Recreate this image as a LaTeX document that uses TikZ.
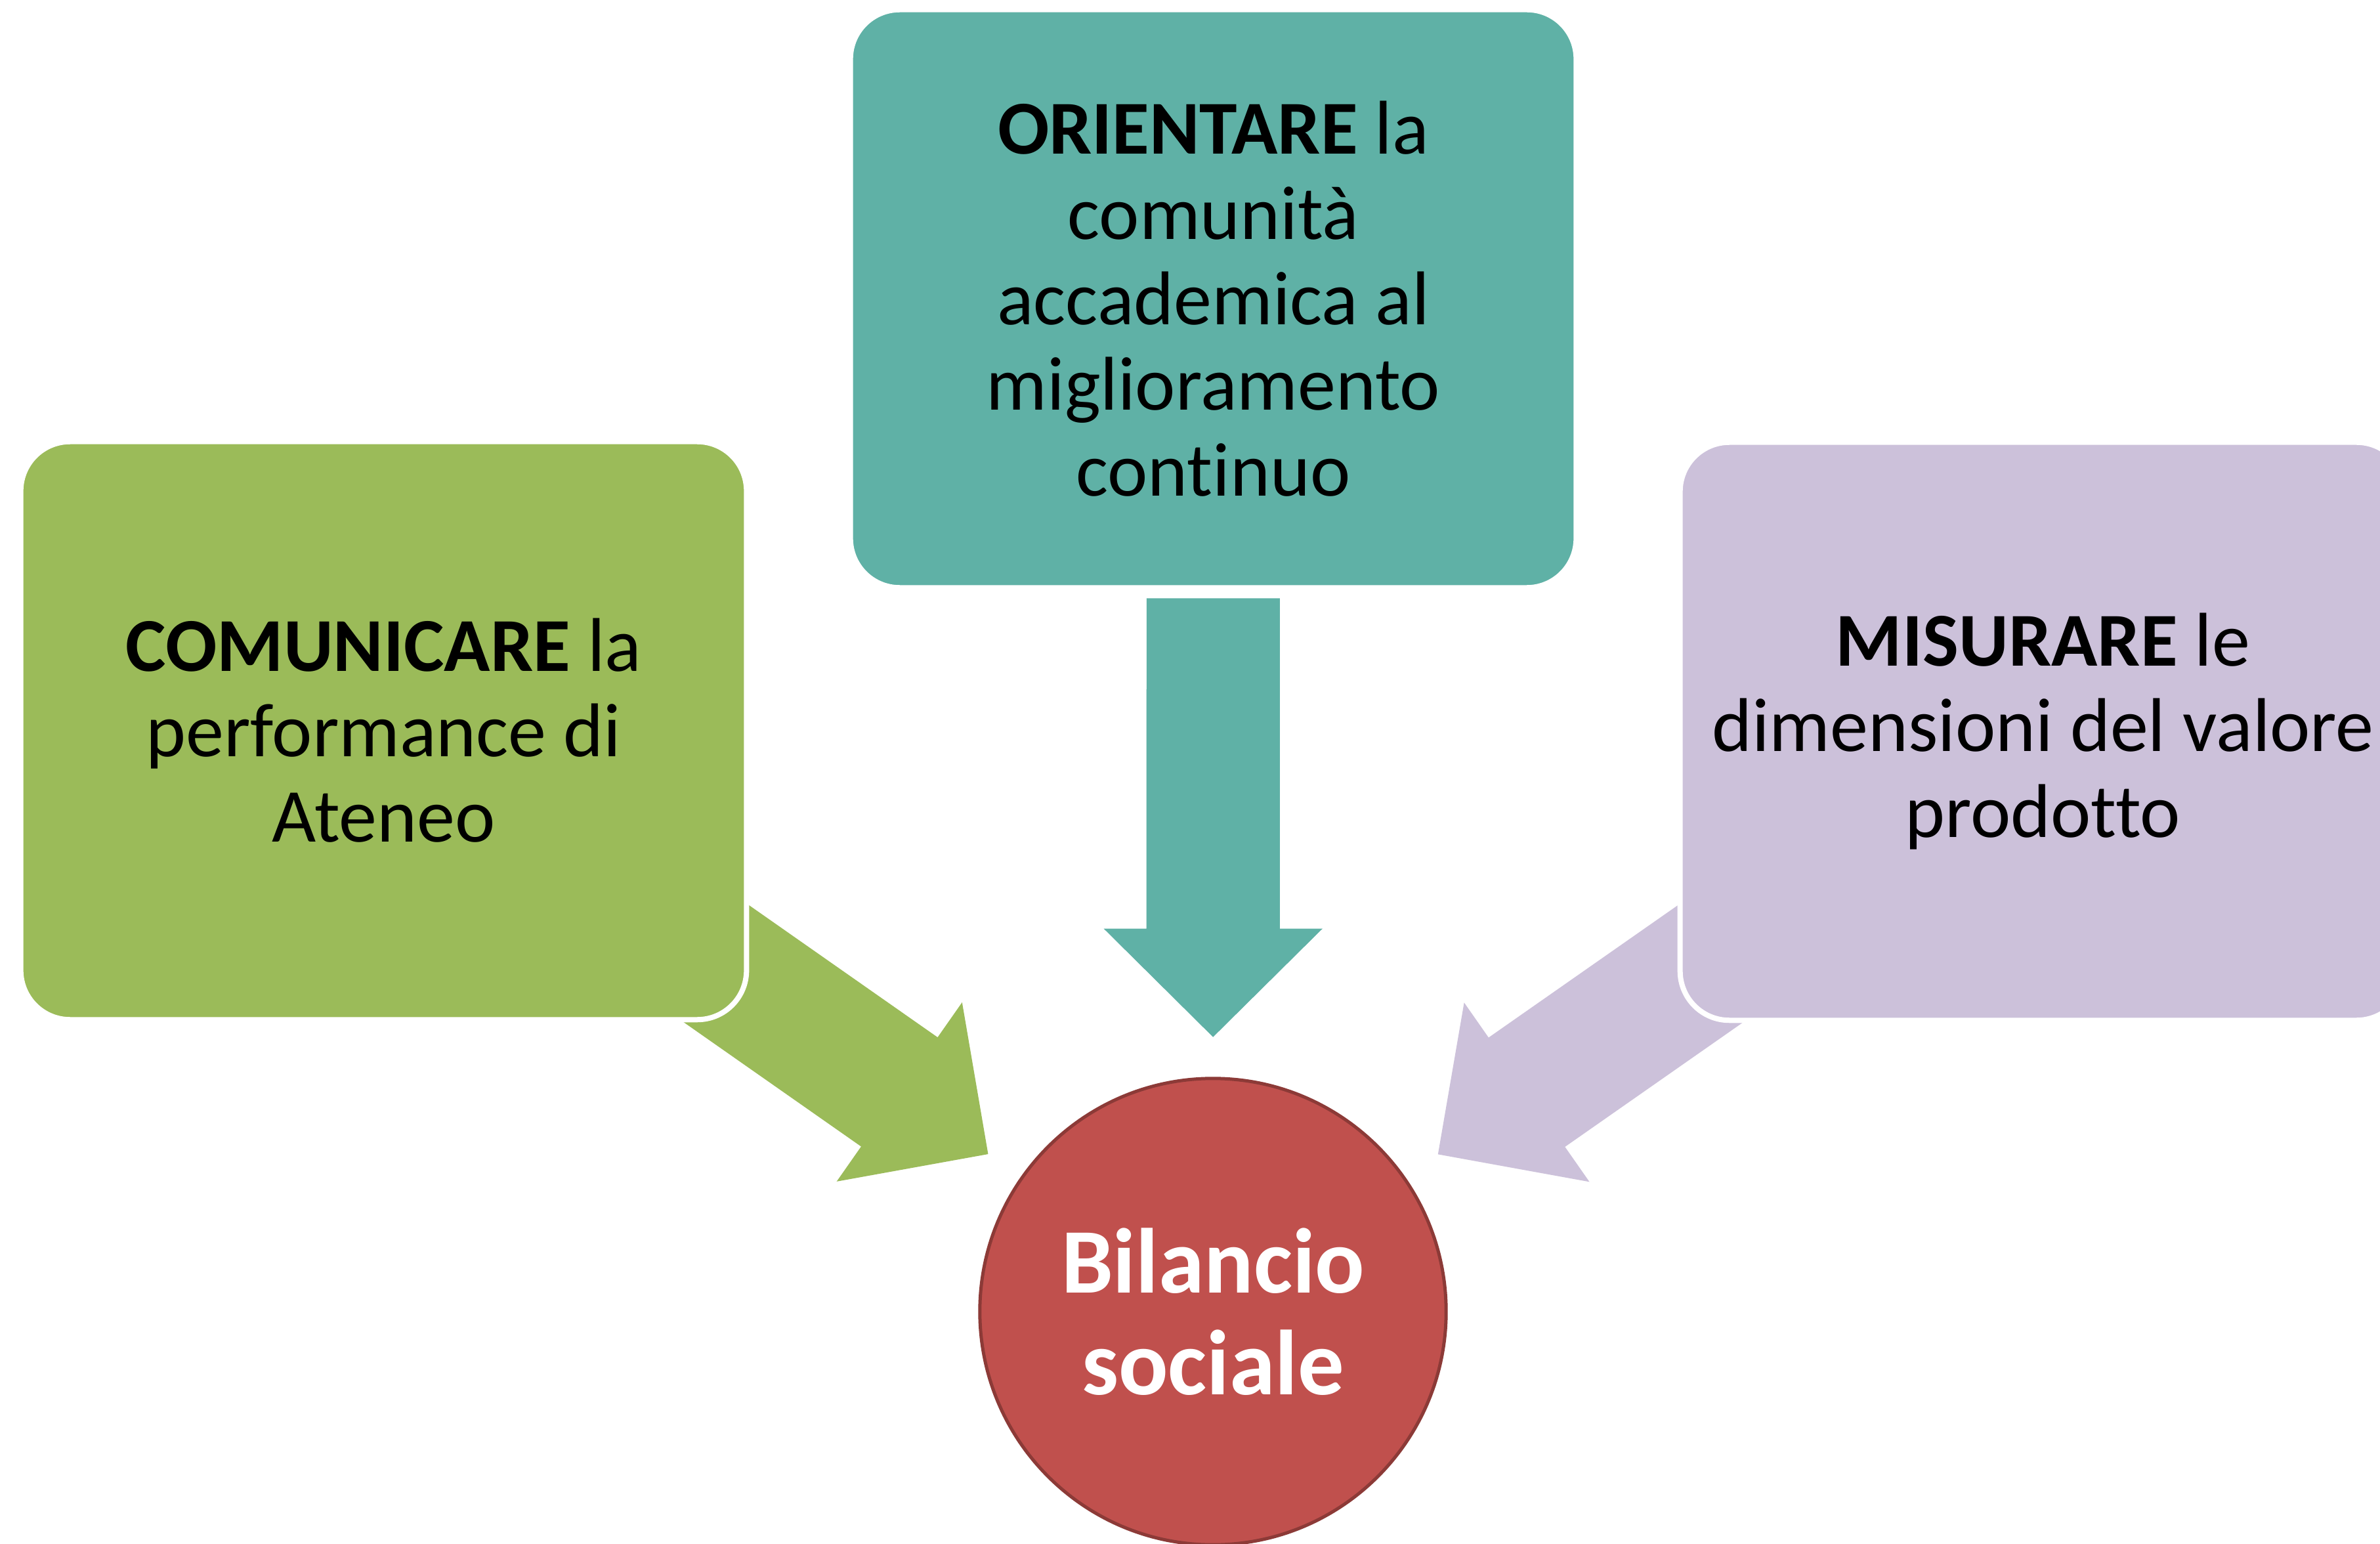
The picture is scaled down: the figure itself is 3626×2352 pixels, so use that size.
\documentclass[tikz,border=0pt]{standalone}
\usepackage{fontspec}
\setmainfont{Carlito}[Ligatures=NoCommon]
\usetikzlibrary{calc}
\definecolor{cgreen}{HTML}{9BBB59}
\definecolor{cteal}{HTML}{5FB1A6}
\definecolor{cpurple}{HTML}{CCC1DA}
\definecolor{cred}{HTML}{C0504D}
\definecolor{credline}{HTML}{8C3A37}
\newcommand{\blockarr}[2]{%
  \coordinate (#1-tip) at ($(cc)!4.18cm!(#1)$);
  \coordinate (#1-neck) at ($(cc)!5.83cm!(#1)$);
  \coordinate (#1-base) at ($(cc)!10.86cm!(#1)$);
  \fill[#2] ($(#1-base)!1.015cm!90:(#1-tip)$) -- ($(#1-neck)!1.015cm!90:(#1-tip)$)
    -- ($(#1-neck)!1.665cm!90:(#1-tip)$) -- (#1-tip)
    -- ($(#1-neck)!1.665cm!-90:(#1-tip)$) -- ($(#1-neck)!1.015cm!-90:(#1-tip)$)
    -- ($(#1-base)!1.015cm!-90:(#1-tip)$) -- cycle;}
\begin{document}
\begin{tikzpicture}[x=0.01cm,y=-0.01cm,
  box/.style={rounded corners=0.75cm, draw=white, line width=0.08cm,
    minimum width=11.05cm, minimum height=8.8cm, align=center, inner sep=0pt,
    font=\fontsize{33}{37}\selectfont},
  hub/.style={circle, fill=cred, draw=credline, line width=0.05cm,
    minimum size=7.1cm, inner sep=0pt, align=center, text=white,
    font=\fontsize{40}{44}\selectfont\bfseries}]
\useasboundingbox (0,0) rectangle (3626,2352);
\clip (0,0) rectangle (3626,2352);
\coordinate (cc) at (1848,1998);
\coordinate (gC) at (584.5,1113);
\coordinate (tC) at (1848.5,455);
\coordinate (pC) at (3112.5,1114);
\blockarr{gC}{cgreen}
\blockarr{tC}{cteal}
\blockarr{pC}{cpurple}
\node[box, fill=cgreen] (g) at (gC) {\textbf{COMUNICARE} la\\performance di\\Ateneo};
\node[box, fill=cteal] (t) at (tC) {\textbf{ORIENTARE} la\\comunità\\accademica al\\miglioramento\\continuo};
\node[box, fill=cpurple] (p) at (pC) {\textbf{MISURARE} le\\dimensioni del valore\\prodotto};
\node[hub] (c) at (cc) {Bilancio\\sociale};
\end{tikzpicture}
\end{document}
